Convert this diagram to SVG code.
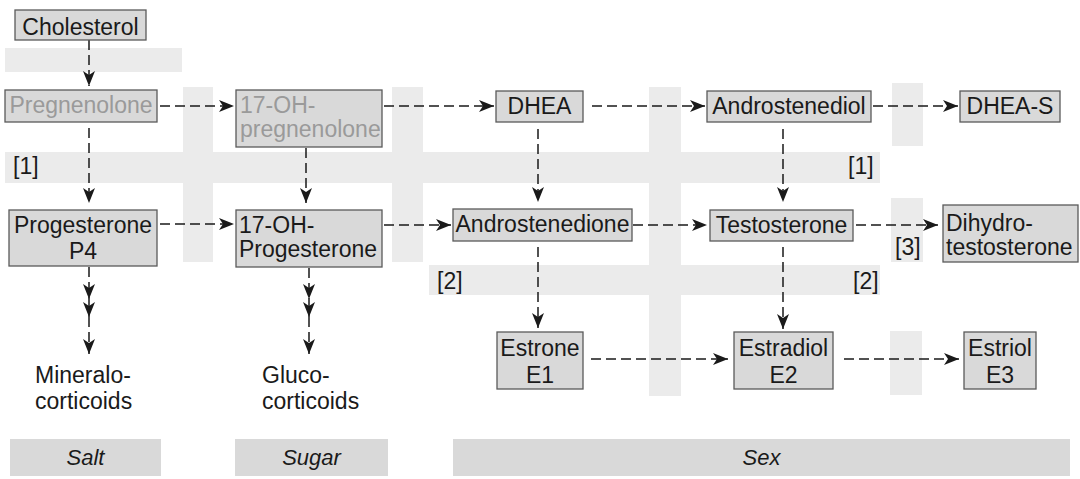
<svg xmlns="http://www.w3.org/2000/svg" width="1080" height="479" viewBox="0 0 1080 479">
<style>
.band{fill:#ebebeb}
.cat{fill:#d9d9d9}
.box{fill:#d9d9d9;stroke:#5a5a5a;stroke-width:1.3}
.t{font-family:"Liberation Sans",Arial,Helvetica,sans-serif;font-size:23px;fill:#1a1a1a}
.g{fill:#9a9a9a}
.m{text-anchor:middle}
.i{font-style:italic;font-size:22px}
.c{fill:none;stroke:#1a1a1a;stroke-width:1.5;stroke-dasharray:10 5;marker-end:url(#ah)}
</style>
<defs>
<marker id="ah" markerUnits="userSpaceOnUse" markerWidth="18" markerHeight="14" viewBox="-16 -7 17 14" refX="0" refY="0" orient="auto">
<path d="M0,0 L-15,-6 L-11,0 L-15,6 Z" fill="#1a1a1a"/>
</marker>
</defs>
<rect width="1080" height="479" fill="#ffffff"/>
<g id="bands">
<rect class="band" x="5" y="48" width="177" height="24"/>
<rect class="band" x="183" y="87" width="30" height="175"/>
<rect class="band" x="392" y="87" width="31" height="175"/>
<rect class="band" x="649" y="87" width="32" height="309"/>
<rect class="band" x="892" y="83" width="31" height="63"/>
<rect class="band" x="5" y="152" width="875" height="31"/>
<rect class="band" x="891" y="198" width="32" height="64"/>
<rect class="band" x="429" y="265" width="451" height="30"/>
<rect class="band" x="890" y="331" width="32" height="64"/>
<text class="t" x="13" y="174">[1]</text>
<text class="t" x="848" y="174">[1]</text>
<text class="t" x="895" y="255">[3]</text>
<text class="t" x="437" y="289">[2]</text>
<text class="t" x="853" y="289">[2]</text>
</g>
<g id="categories">
<rect class="cat" x="10" y="439" width="151" height="37"/>
<rect class="cat" x="235" y="439" width="153" height="37"/>
<rect class="cat" x="453" y="439" width="617" height="37"/>
<text class="t m i" x="85.5" y="465">Salt</text>
<text class="t m i" x="311.5" y="465">Sugar</text>
<text class="t m i" x="761.5" y="465">Sex</text>
</g>
<g id="connectors">
<line class="c" x1="89" y1="40" x2="89" y2="86"/>
<line class="c" x1="160" y1="106" x2="234" y2="106"/>
<line class="c" x1="384" y1="106" x2="494" y2="106"/>
<line class="c" x1="592" y1="106" x2="705" y2="106"/>
<line class="c" x1="873" y1="106" x2="958" y2="106"/>
<line class="c" x1="89" y1="128" x2="89" y2="203"/>
<line class="c" x1="306" y1="148" x2="306" y2="203"/>
<line class="c" x1="538" y1="129" x2="538" y2="202"/>
<line class="c" x1="783" y1="129" x2="783" y2="202"/>
<line class="c" x1="160" y1="224" x2="234" y2="224"/>
<line class="c" x1="384" y1="225" x2="451" y2="225"/>
<line class="c" x1="633" y1="225" x2="707" y2="225"/>
<line class="c" x1="856" y1="225" x2="938" y2="225"/>
<line class="c" x1="538" y1="247" x2="538" y2="328"/>
<line class="c" x1="783" y1="247" x2="783" y2="329"/>
<line class="c" x1="591" y1="359" x2="728" y2="359"/>
<line class="c" x1="844" y1="359" x2="959" y2="359"/>
<line class="c" x1="89" y1="267" x2="89" y2="299"/>
<line class="c" x1="89" y1="299" x2="89" y2="317"/>
<line class="c" x1="89" y1="317" x2="89" y2="354"/>
<line class="c" x1="309" y1="268" x2="309" y2="299"/>
<line class="c" x1="309" y1="299" x2="309" y2="317"/>
<line class="c" x1="309" y1="317" x2="309" y2="354"/>
</g>
<g id="cholesterol">
<rect class="box" x="15" y="10" width="131" height="30"/>
<text class="t m" x="80.5" y="35">Cholesterol</text>
</g>
<g id="pregnenolone">
<rect class="box" x="5" y="90" width="152" height="32"/>
<text class="t m g" x="81" y="113">Pregnenolone</text>
</g>
<g id="oh-pregnenolone">
<rect class="box" x="236" y="90" width="146" height="57"/>
<text class="t g" x="240" y="113">17-OH-</text>
<text class="t g" x="240" y="137">pregnenolone</text>
</g>
<g id="dhea">
<rect class="box" x="496" y="91" width="87" height="31"/>
<text class="t m" x="539.5" y="114">DHEA</text>
</g>
<g id="androstenediol">
<rect class="box" x="707" y="91" width="164" height="31"/>
<text class="t m" x="789" y="114">Androstenediol</text>
</g>
<g id="dhea-s">
<rect class="box" x="960" y="91" width="100" height="31"/>
<text class="t m" x="1010" y="114">DHEA-S</text>
</g>
<g id="progesterone">
<rect class="box" x="9" y="210" width="148" height="56"/>
<text class="t m" x="83" y="233">Progesterone</text>
<text class="t m" x="83" y="259">P4</text>
</g>
<g id="oh-progesterone">
<rect class="box" x="236" y="210" width="146" height="57"/>
<text class="t" x="239" y="233">17-OH-</text>
<text class="t" x="239" y="257">Progesterone</text>
</g>
<g id="androstenedione">
<rect class="box" x="453" y="209" width="179" height="32"/>
<text class="t m" x="542.5" y="232">Androstenedione</text>
</g>
<g id="testosterone">
<rect class="box" x="710" y="210" width="143" height="31"/>
<text class="t m" x="781.5" y="233">Testosterone</text>
</g>
<g id="dihydrotestosterone">
<rect class="box" x="943" y="205" width="135" height="57"/>
<text class="t" x="946" y="231">Dihydro-</text>
<text class="t" x="946" y="255">testosterone</text>
</g>
<g id="estrone">
<rect class="box" x="497" y="332" width="86" height="57"/>
<text class="t m" x="540" y="356">Estrone</text>
<text class="t m" x="540" y="383">E1</text>
</g>
<g id="estradiol">
<rect class="box" x="734" y="332" width="99" height="57"/>
<text class="t m" x="783.5" y="356">Estradiol</text>
<text class="t m" x="783.5" y="383">E2</text>
</g>
<g id="estriol">
<rect class="box" x="964" y="332" width="72" height="57"/>
<text class="t m" x="1000" y="356">Estriol</text>
<text class="t m" x="1000" y="383">E3</text>
</g>
<g id="mineralocorticoids">
<text class="t" x="35" y="383">Mineralo-</text>
<text class="t" x="35" y="409">corticoids</text>
</g>
<g id="glucocorticoids">
<text class="t" x="262" y="383">Gluco-</text>
<text class="t" x="262" y="409">corticoids</text>
</g>
</svg>
